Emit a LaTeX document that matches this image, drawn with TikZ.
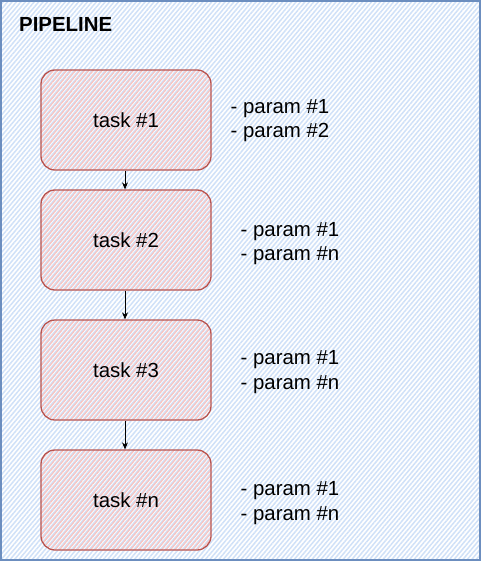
\documentclass[tikz,border=0pt]{standalone}
\usepackage{fontspec}
\setmainfont{Liberation Sans}
\usetikzlibrary{patterns.meta,arrows.meta}
\definecolor{bluestroke}{HTML}{6C8EBF}
\definecolor{bluehatch}{HTML}{D0E1F8}
\definecolor{redstroke}{HTML}{B85450}
\definecolor{redhatch}{HTML}{F6C4C2}
\tikzset{
  outerbox/.style={draw=bluestroke, line width=1.2pt, preaction={fill=white},
    pattern={Lines[angle=50, distance=3.4pt, line width=1.5pt]}, pattern color=bluehatch,
    minimum width=479pt, minimum height=559pt, inner sep=0pt},
  taskbox/.style={draw=redstroke, line width=1.3pt, rounded corners=14pt,
    pattern={Lines[angle=50, distance=3.4pt, line width=1.3pt, xshift=1.3pt]}, pattern color=redhatch,
    minimum width=170pt, minimum height=100pt, inner sep=0pt,
    font=\fontsize{20.4}{24}\selectfont},
  paramtext/.style={anchor=west, align=left, inner sep=0pt, font=\fontsize{20.4}{24.5}\selectfont},
  titletext/.style={anchor=west, inner sep=0pt, font=\fontsize{20.4}{24}\selectfont\bfseries},
  flow/.style={draw=black, line width=0.9pt, -{Stealth[length=7pt, width=6pt]}}
}
\begin{document}
\begin{tikzpicture}[x=1pt,y=-1pt]
\useasboundingbox (0,0) rectangle (481,561);
\node[outerbox] (pipe) at (240.5,280.5) {};
\node[titletext] (title) at (19,24.5) {PIPELINE};
\node[taskbox] (t1) at (126,120) {task \#1};
\node[taskbox] (t2) at (126,240) {task \#2};
\node[taskbox] (t3) at (126,370) {task \#3};
\node[taskbox] (t4) at (126,500) {task \#n};
\node[paramtext] (p1) at (230.5,120.5) {- param \#1\\- param \#2};
\node[paramtext] (p2) at (240.5,243.5) {- param \#1\\- param \#n};
\node[paramtext] (p3) at (240.5,372) {- param \#1\\- param \#n};
\node[paramtext] (p4) at (240.5,503) {- param \#1\\- param \#n};
\draw[flow] (t1.south -| 125,0) -- (t2.north -| 125,0);
\draw[flow] (t2.south -| 125,0) -- (t3.north -| 125,0);
\draw[flow] (t3.south -| 125,0) -- (t4.north -| 125,0);
\end{tikzpicture}
\end{document}
